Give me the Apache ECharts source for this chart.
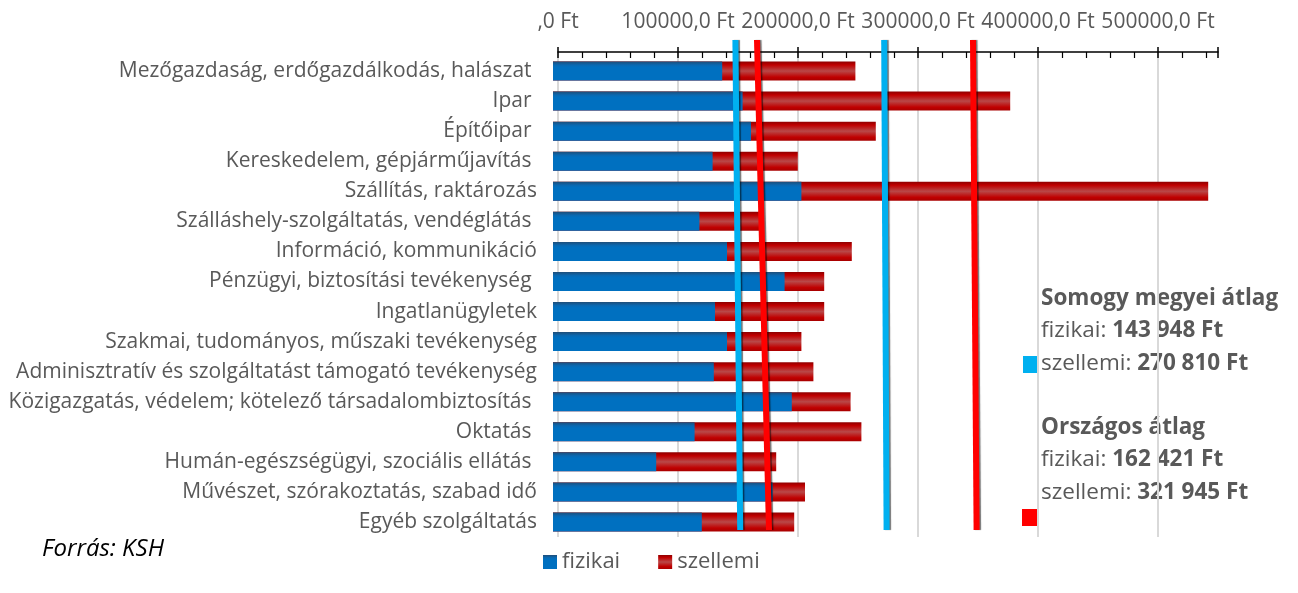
<!DOCTYPE html>
<html>
<head>
<meta charset="utf-8">
<script src="https://cdn.jsdelivr.net/npm/echarts@6/dist/echarts.min.js"></script>
<style>
  html, body { margin: 0; padding: 0; background: #fff; }
  #chart { width: 1298px; height: 593px; }
</style>
</head>
<body>
<div id="chart"></div>
<script>
// agazatok (felulrol lefele)
const categories = [
  'Mezőgazdaság, erdőgazdálkodás, halászat ',
  'Ipar ',
  'Építőipar ',
  'Kereskedelem, gépjárműjavítás ',
  'Szállítás, raktározás',
  'Szálláshely-szolgáltatás, vendéglátás ',
  'Információ, kommunikáció',
  'Pénzügyi, biztosítási tevékenység ',
  'Ingatlanügyletek',
  'Szakmai, tudományos, műszaki tevékenység',
  'Adminisztratív és szolgáltatást támogató tevékenység',
  'Közigazgatás, védelem; kötelező társadalombiztosítás ',
  'Oktatás ',
  'Humán-egészségügyi, szociális ellátás ',
  'Művészet, szórakoztatás, szabad idő',
  'Egyéb szolgáltatás'
]
const fizikai = [141000, 158000, 165000, 133000, 207000, 122000, 145000, 193000, 135000, 145000, 134000, 199000, 118000, 86000, 183000, 124000]
const szellemi = [252000, 381000, 269000, 204000, 546000, 173000, 249000, 226000, 226000, 207000, 217000, 248000, 257000, 186000, 210000, 201000]

// atlagok (szoveg)
const somogyAtlag = [143948, 270810]
const orszagosAtlag = [162421, 321945]

// atlag vonalak ahogy a kepen vannak rajzolva (felso / also vegpont)
const avgLineNames = ['Somogy fizikai', 'Országos fizikai', 'Somogy szellemi', 'Országos szellemi']
const avgLineTop = [152000, 170000, 276000, 350000]
const avgLineBottom = [156000, 180000, 278000, 353000]
const avgLineColors = ['#00B0F0', '#FF0000', '#00B0F0', '#FF0000']

const axisTicks = [0, 100000, 200000, 300000, 400000, 500000]

function fmt(n) {
  return String(n).replace(/\B(?=(\d{3})+(?!\d))/g, ' ') + ' Ft'
}

var chartDom = document.getElementById('chart')
var myChart = echarts.init(chartDom)
var FONT = '"Open Sans", sans-serif'
var GREY = '#595959'

const redGrad = new echarts.graphic.LinearGradient(0, 0, 0, 1, [
  { offset: 0, color: '#8e0000' },
  { offset: 0.18, color: '#c00000' },
  { offset: 0.5, color: '#b94848' },
  { offset: 0.82, color: '#c00000' },
  { offset: 1, color: '#a80000' }
])
const blueGrad = new echarts.graphic.LinearGradient(0, 0, 0, 1, [
  { offset: 0, color: '#1f4e79' },
  { offset: 0.18, color: '#0a68b0' },
  { offset: 0.3, color: '#0070c0' },
  { offset: 1, color: '#0070c0' }
])

let lineSeries = []
for (let i = 0; i < avgLineTop.length; i++) {
  lineSeries.push({
    name: avgLineNames[i],
    type: 'line',
    xAxisIndex: 2,
    yAxisIndex: 2,
    symbol: 'none',
    silent: true,
    z: 10,
    lineStyle: {
      color: avgLineColors[i],
      width: 6,
      shadowColor: 'rgba(0,0,0,0.55)',
      shadowBlur: 1,
      shadowOffsetX: 1.5
    },
    data: [[avgLineTop[i], 1], [avgLineBottom[i], 0]]
  })
}

var option = {
  animation: false,
  textStyle: { fontFamily: FONT },
  grid: [
    { left: 558, width: 660, top: 52, bottom: 56 },
    { left: 553, width: 660, top: 56, bottom: 56 },
    { left: 553, width: 660, top: 40, bottom: 63 },
    { left: 558, width: 660, top: 52, bottom: 56 }
  ],
  xAxis: [
    {
      type: 'value',
      gridIndex: 0,
      position: 'top',
      min: 0,
      max: 550000,
      interval: 100000,
      axisLine: { show: true, onZero: false, lineStyle: { color: '#000', width: 1.5 } },
      axisTick: { show: true, inside: true, length: 6, lineStyle: { color: '#000', width: 1.5 } },
      minorTick: { show: true, splitNumber: 5, length: 6, lineStyle: { color: '#000', width: 1.2 } },
      axisLabel: {
        margin: 19,
        fontSize: 21,
        color: GREY,
        showMaxLabel: false,
        formatter: function (v) {
          return axisTicks.indexOf(v) < 0 ? '' : (v === 0 ? ',0 Ft' : v + ',0 Ft')
        }
      },
      splitLine: { show: true, showMaxLine: false, lineStyle: { color: '#d9d9d9', width: 2 } }
    },
    { type: 'value', gridIndex: 1, min: 0, max: 550000, show: false },
    { type: 'value', gridIndex: 2, min: 0, max: 550000, show: false },
    {
      type: 'value',
      gridIndex: 3,
      position: 'top',
      min: 0,
      max: 550000,
      interval: 100000,
      axisLine: { show: false, onZero: false },
      axisTick: { show: true, inside: false, length: 5, lineStyle: { color: '#000', width: 1.5 } },
      axisLabel: { show: false },
      splitLine: { show: false }
    }
  ],
  yAxis: [
    { type: 'value', gridIndex: 0, show: false },
    {
      type: 'category',
      gridIndex: 1,
      inverse: true,
      data: categories,
      axisLine: { show: false },
      axisTick: { show: false },
      axisLabel: { fontSize: 21, color: GREY, margin: 16 }
    },
    { type: 'value', gridIndex: 2, min: 0, max: 1, show: false },
    { type: 'value', gridIndex: 3, show: false }
  ],
  legend: {
    data: ['fizikai', 'szellemi'],
    left: 538,
    top: 546,
    itemWidth: 14,
    itemHeight: 14,
    itemGap: 38,
    icon: 'rect',
    textStyle: { fontSize: 22, color: GREY, fontFamily: FONT }
  },
  series: [
    {
      name: 'szellemi',
      type: 'bar',
      xAxisIndex: 1,
      yAxisIndex: 1,
      barWidth: 19,
      barGap: '-100%',
      itemStyle: { color: redGrad },
      data: szellemi
    },
    {
      name: 'fizikai',
      type: 'bar',
      xAxisIndex: 1,
      yAxisIndex: 1,
      barWidth: 19,
      barGap: '-100%',
      itemStyle: { color: blueGrad },
      data: fizikai
    }
  ].concat(lineSeries),
  graphic: [
    {
      type: 'text',
      left: 1041,
      top: 287,
      style: {
        text: '{b|Somogy megyei átlag}\n{n|fizikai: }{b|' + fmt(somogyAtlag[0]) + '}\n{n|szellemi: }{b|' + fmt(somogyAtlag[1]) + '}\n{n| }\n' +
          '{b|Országos átlag}\n{n|fizikai: }{b|' + fmt(orszagosAtlag[0]) + '}\n{n|szellemi: }{b|' + fmt(orszagosAtlag[1]) + '}',
        rich: {
          b: { fontSize: 22.5, fontWeight: 'bold', fill: GREY, fontFamily: FONT, lineHeight: 32.3 },
          n: { fontSize: 22.5, fill: GREY, fontFamily: FONT, lineHeight: 32.3 }
        }
      }
    },
    { type: 'rect', left: 1023, top: 356, shape: { width: 15, height: 17 }, style: { fill: '#00B0F0' } },
    { type: 'rect', left: 1022, top: 509, shape: { width: 15, height: 17 }, style: { fill: '#FF0000' } },
    {
      type: 'text',
      left: 42,
      top: 537,
      style: { text: 'Forrás: KSH', fontSize: 24, fontStyle: 'italic', fill: '#000', fontFamily: FONT }
    }
  ]
}

option && myChart.setOption(option)
</script>
</body>
</html>
